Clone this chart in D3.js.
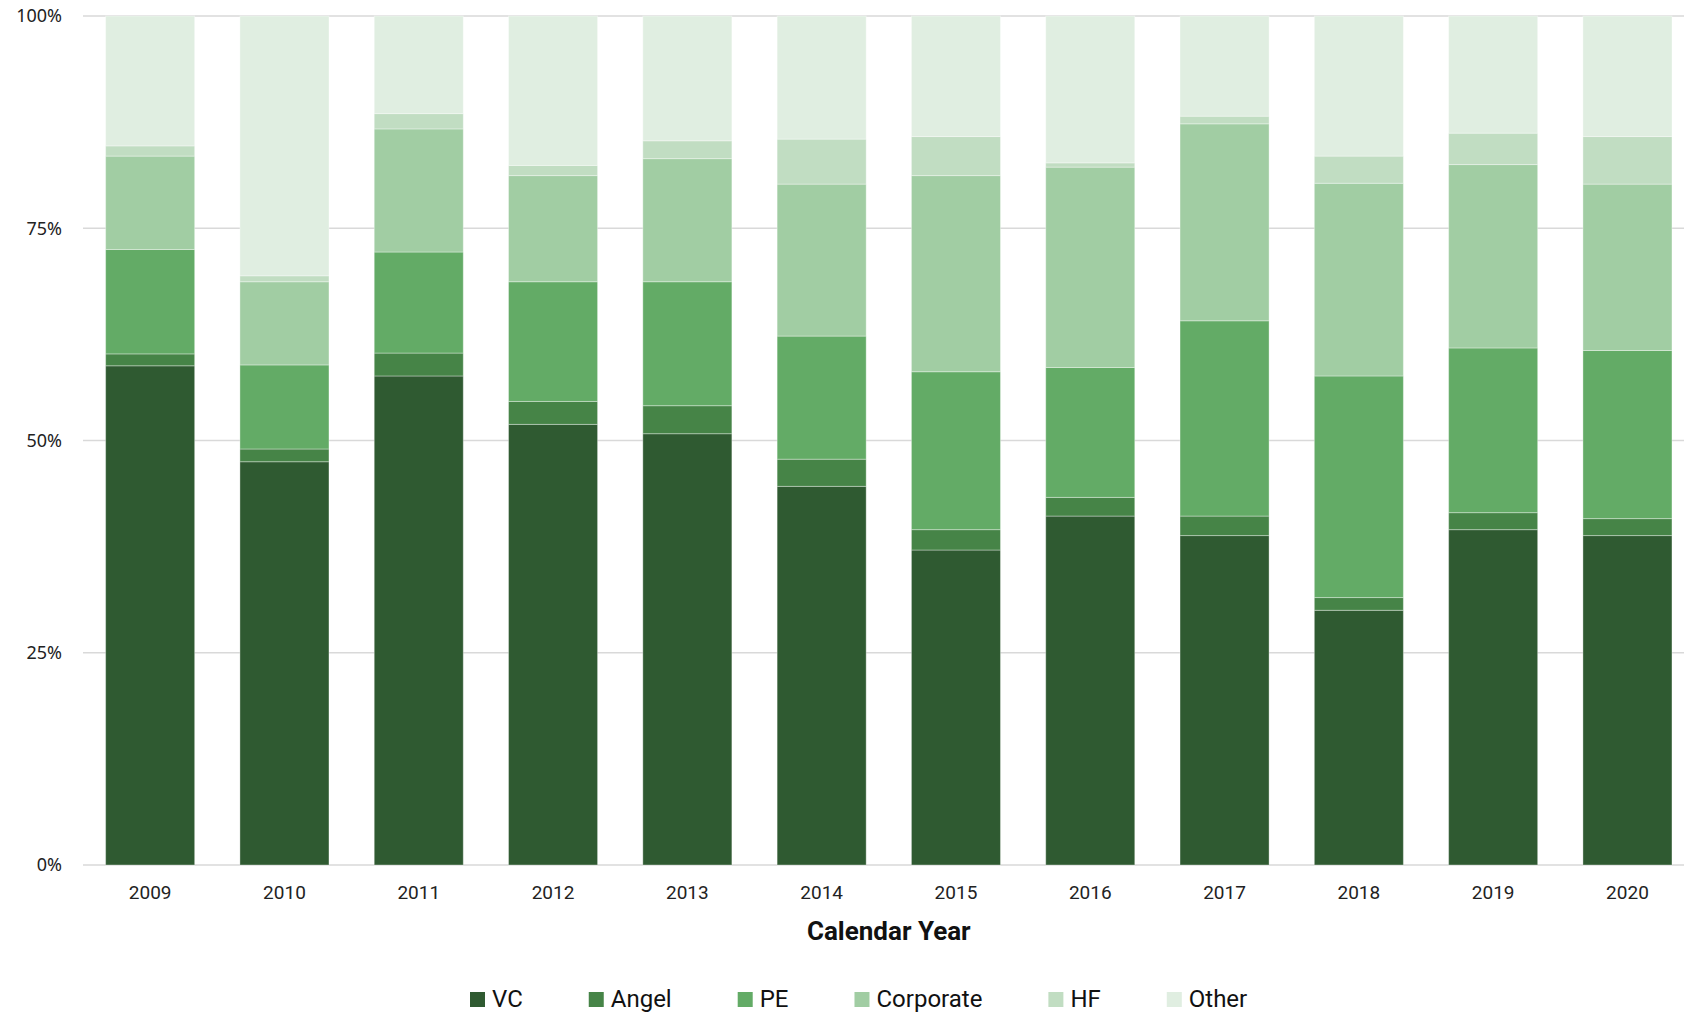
<!DOCTYPE html>
<html>
<head>
<meta charset="utf-8">
<script src="https://cdn.jsdelivr.net/npm/d3@7"></script>
<style>
  html, body { margin: 0; padding: 0; background: #ffffff; }
  svg { display: block; }
</style>
</head>
<body>
<svg id="chart" width="1684" height="1013"></svg>
<script>
// Share of deal value by investor type, per calendar year (percent)
const years = ["2009", "2010", "2011", "2012", "2013", "2014", "2015", "2016", "2017", "2018", "2019", "2020"];
const seriesNames = ["VC", "Angel", "PE", "Corporate", "HF", "Other"];
const vc        = [58.8, 47.5, 57.6, 51.9, 50.8, 44.6, 37.1, 41.1, 38.8, 30.0, 39.5, 38.8];
const angel     = [1.4, 1.5, 2.7, 2.7, 3.3, 3.2, 2.4, 2.2, 2.3, 1.5, 2.0, 2.0];
const pe        = [12.3, 9.9, 11.9, 14.1, 14.6, 14.5, 18.6, 15.3, 23.0, 26.1, 19.4, 19.8];
const corporate = [11.0, 9.8, 14.5, 12.5, 14.5, 17.9, 23.1, 23.6, 23.2, 22.7, 21.6, 19.6];
const hf        = [1.2, 0.7, 1.8, 1.2, 2.1, 5.3, 4.6, 0.5, 0.9, 3.2, 3.7, 5.6];
const other     = [15.3, 30.6, 11.5, 17.6, 14.7, 14.5, 14.2, 17.3, 11.8, 16.5, 13.8, 14.2];
const yTicks = [0, 0.25, 0.5, 0.75, 1];
const xTitle = "Calendar Year";

const colors = ["#2f5a31", "#468447", "#63ab66", "#a1cda3", "#c1ddc2", "#e0eee1"];

const seriesValues = [vc, angel, pe, corporate, hf, other];
const rows = years.map((y, i) => {
  const r = { year: y };
  seriesNames.forEach((s, k) => { r[s] = seriesValues[k][i]; });
  return r;
});

const svg = d3.select("#chart");

const x = d3.scaleBand()
  .domain(years)
  .range([83, 1694.6])
  .paddingInner(0.337)
  .paddingOuter(0.1685);

const y = d3.scaleLinear().domain([0, 1]).range([865, 16]);

const color = d3.scaleOrdinal().domain(seriesNames).range(colors);

// Horizontal gridlines
svg.append("g")
  .selectAll("line")
  .data(yTicks)
  .join("line")
  .attr("x1", 83)
  .attr("x2", 1684)
  .attr("y1", d => y(d))
  .attr("y2", d => y(d))
  .attr("stroke", "#d9d9d9")
  .attr("stroke-width", 1.5);

// Y axis labels
const yAxis = d3.axisLeft(y)
  .tickValues(yTicks)
  .tickFormat(d3.format(".0%"))
  .tickSize(0)
  .tickPadding(0);

svg.append("g")
  .attr("transform", "translate(62,0)")
  .call(yAxis)
  .call(g => g.select(".domain").remove())
  .call(g => g.selectAll("text")
    .attr("font-family", "'Noto Sans', sans-serif")
    .attr("font-size", 18)
    .attr("fill", "#222"));

// Stacked bars, normalised to 100%
const stack = d3.stack()
  .keys(seriesNames)
  .offset(d3.stackOffsetExpand);
const stacked = stack(rows);

svg.append("g")
  .selectAll("g")
  .data(stacked)
  .join("g")
  .attr("fill", d => color(d.key))
  .selectAll("rect")
  .data(d => d)
  .join("rect")
  .attr("x", d => x(d.data.year))
  .attr("width", x.bandwidth())
  .attr("y", d => y(d[1]))
  .attr("height", d => y(d[0]) - y(d[1]))
  .attr("stroke", "rgba(255,255,255,0.35)")
  .attr("stroke-width", 1);

// X axis labels
const xAxis = d3.axisBottom(x).tickSize(0).tickPadding(0);
svg.append("g")
  .attr("transform", "translate(0,885)")
  .call(xAxis)
  .call(g => g.select(".domain").remove())
  .call(g => g.selectAll("text")
    .attr("font-family", "Roboto, sans-serif")
    .attr("font-size", 19)
    .attr("fill", "#222"));

// X axis title
svg.append("text")
  .attr("x", (x.range()[0] + x.range()[1]) / 2)
  .attr("y", 940)
  .attr("text-anchor", "middle")
  .attr("font-family", "Roboto, sans-serif")
  .attr("font-weight", "bold")
  .attr("font-size", 26)
  .attr("fill", "#111")
  .text(xTitle);

// Legend
const legend = svg.append("g");
let lx = 470;
seriesNames.forEach((name) => {
  const item = legend.append("g");
  item.append("rect")
    .attr("x", lx)
    .attr("y", 992)
    .attr("width", 15)
    .attr("height", 15)
    .attr("fill", color(name));
  const t = item.append("text")
    .attr("x", lx + 22)
    .attr("y", 1007)
    .attr("font-family", "Roboto, sans-serif")
    .attr("font-size", 24)
    .attr("fill", "#111")
    .text(name);
  lx += 22 + t.node().getComputedTextLength() + 66;
});
</script>
</body>
</html>
